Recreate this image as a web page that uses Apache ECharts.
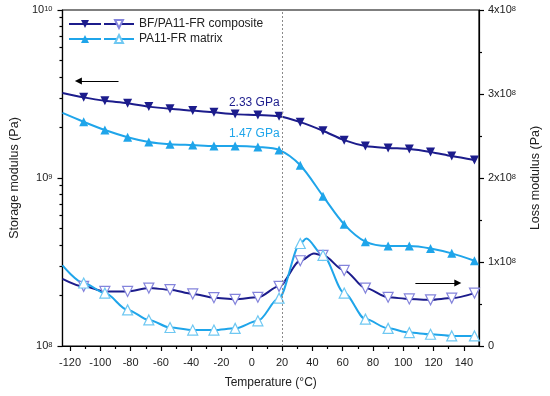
<!DOCTYPE html>
<html>
<head>
<meta charset="utf-8">
<script src="https://cdn.jsdelivr.net/npm/echarts@6/dist/echarts.min.js"></script>
<style>html,body{margin:0;padding:0;background:#fff;}#c{width:550px;height:396px;}</style>
</head>
<body>
<div id="c"></div>
<script>
// Temperatures (°C) of the plotted marker points
const temps = [-125, -111, -97, -82, -68, -54, -39, -25, -11, 4, 18, 32, 47, 61, 75, 90, 104, 118, 132, 147];
// Storage modulus (Pa)
const storageComposite = [3.21e9, 3.02e9, 2.88e9, 2.79e9, 2.66e9, 2.58e9, 2.52e9, 2.46e9, 2.40e9, 2.37e9, 2.33e9, 2.15e9, 1.91e9, 1.68e9, 1.55e9, 1.51e9, 1.49e9, 1.43e9, 1.35e9, 1.28e9];
const storageMatrix = [2.44e9, 2.16e9, 1.93e9, 1.75e9, 1.64e9, 1.59e9, 1.57e9, 1.55e9, 1.55e9, 1.53e9, 1.47e9, 1.19e9, 7.8e8, 5.3e8, 4.18e8, 3.94e8, 3.94e8, 3.81e8, 3.56e8, 3.22e8];
// Loss modulus (Pa)
const lossComposite = [0.80e8, 0.71e8, 0.65e8, 0.65e8, 0.69e8, 0.67e8, 0.62e8, 0.575e8, 0.556e8, 0.58e8, 0.71e8, 1.015e8, 1.08e8, 0.90e8, 0.69e8, 0.58e8, 0.56e8, 0.55e8, 0.57e8, 0.63e8];
const lossMatrix = [0.96e8, 0.75e8, 0.63e8, 0.43e8, 0.31e8, 0.22e8, 0.19e8, 0.19e8, 0.21e8, 0.30e8, 0.57e8, 1.22e8, 1.08e8, 0.63e8, 0.32e8, 0.21e8, 0.16e8, 0.14e8, 0.12e8, 0.12e8];
// Loss peaks (between markers)
const lossCompositePeak = [41, 1.10e8];
const lossMatrixPeak = [36, 1.28e8];
// Annotations
const refTemp = 20;
const compositeAt20 = 2.33e9;
const matrixAt20 = 1.47e9;
// Axis ticks
const xMajorTicks = [-120, -100, -80, -60, -40, -20, 0, 20, 40, 60, 80, 100, 120, 140];
const xMinorTicks = [-110, -90, -70, -50, -30, -10, 10, 30, 50, 70, 90, 110, 130];
const logMinorTicks = [2e8, 3e8, 4e8, 5e8, 6e8, 7e8, 8e8, 9e8, 2e9, 3e9, 4e9, 5e9, 6e9, 7e9, 8e9, 9e9];

const NAVY = '#1c1c8c';
const LIGHT = '#1fa5ea';
const FONT = 'Liberation Sans, Arial, sans-serif';

function build(vals, peak) {
  const d = temps.map((t, i) => (i === 0 ? { value: [t, vals[i]], symbol: 'none' } : { value: [t, vals[i]] }));
  if (peak) {
    d.push({ value: peak, symbol: 'none' });
    d.sort((a, b) => a.value[0] - b.value[0]);
  }
  return d;
}

const chart = echarts.init(document.getElementById('c'), null, { renderer: 'canvas' });
const supRich = {
  b: { fontSize: 11, fontFamily: FONT, color: '#222' },
  s: { fontSize: 7.5, fontFamily: FONT, color: '#222', verticalAlign: 'top', padding: [0, 0, 0, 0] }
};
const option = {
  animation: false,
  textStyle: { fontFamily: FONT },
  grid: { left: 62, right: 69, top: 10, bottom: 50, show: true, borderColor: '#000', borderWidth: 1.2, backgroundColor: 'transparent' },
  legend: [
    {
      data: ['Storage composite', 'Storage matrix'],
      orient: 'vertical', left: 68, top: 18, padding: 0, itemGap: 3,
      itemWidth: 32, itemHeight: 10,
      formatter: () => ' ',
      textStyle: { fontSize: 12 }
    },
    {
      data: ['BF/PA11-FR composite', 'PA11-FR matrix'],
      orient: 'vertical', left: 103, top: 18, padding: 0, itemGap: 3,
      itemWidth: 30, itemHeight: 10,
      textStyle: { fontSize: 12, color: '#222', fontFamily: FONT }
    }
  ],
  xAxis: [
    {
      type: 'value', min: -125, max: 150, position: 'bottom',
      name: 'Temperature (°C)', nameLocation: 'middle', nameGap: 31,
      nameTextStyle: { fontSize: 12, color: '#222', fontFamily: FONT },
      axisLine: { show: true, onZero: false, lineStyle: { color: '#000', width: 1.2 } },
      axisTick: { show: true, customValues: xMajorTicks, length: 5, lineStyle: { color: '#000', width: 1.2 } },
      axisLabel: { customValues: xMajorTicks, fontSize: 11, color: '#222', margin: 11, fontFamily: FONT },
      splitLine: { show: false }
    },
    {
      type: 'value', min: -125, max: 150, position: 'bottom', offset: 0,
      axisLine: { show: false, onZero: false },
      axisTick: { show: true, customValues: xMinorTicks, length: 3, lineStyle: { color: '#000', width: 1.2 } },
      axisLabel: { show: false },
      splitLine: { show: false }
    }
  ],
  yAxis: [
    {
      type: 'log', logBase: 10, min: 1e8, max: 1e10, position: 'left',
      name: 'Storage modulus (Pa)', nameLocation: 'middle', nameGap: 31,
      nameTextStyle: { fontSize: 12.5, color: '#222', fontFamily: FONT },
      axisLine: { show: true, onZero: false, lineStyle: { color: '#000', width: 1.2 } },
      axisTick: { show: true, length: 5, lineStyle: { color: '#000', width: 1.2 } },
      axisLabel: {
        margin: 10,
        formatter: v => '{b|10}{s|' + Math.round(Math.log10(v)) + '}',
        rich: supRich
      },
      splitLine: { show: false }
    },
    {
      type: 'value', min: 0, max: 4e8, interval: 1e8, position: 'right',
      name: 'Loss modulus (Pa)', nameLocation: 'middle', nameGap: 50,
      nameTextStyle: { fontSize: 12.5, color: '#222', fontFamily: FONT },
      axisLine: { show: true, onZero: false, lineStyle: { color: '#000', width: 1.2 } },
      axisTick: { show: true, length: 5, lineStyle: { color: '#000', width: 1.2 } },
      minorTick: { show: true, splitNumber: 2, length: 3, lineStyle: { color: '#000', width: 1.2 } },
      axisLabel: {
        margin: 9,
        formatter: v => (v === 0 ? '{b|0}' : '{b|' + Math.round(v / 1e8) + 'x10}{s|8}'),
        rich: supRich
      },
      splitLine: { show: false }
    },
    {
      type: 'log', logBase: 10, min: 1e8, max: 1e10, position: 'left', offset: 0,
      axisLine: { show: false, onZero: false },
      axisTick: { show: true, customValues: logMinorTicks, length: 3, lineStyle: { color: '#000', width: 1.2 } },
      axisLabel: { show: false },
      splitLine: { show: false }
    }
  ],
  series: [
    {
      name: 'Storage composite', type: 'line', yAxisIndex: 0,
      data: build(storageComposite),
      smooth: 0.3,
      symbol: 'triangle', symbolRotate: 180, symbolSize: 9,
      itemStyle: { color: NAVY },
      lineStyle: { color: NAVY, width: 2 },
      z: 3,
      markLine: {
        silent: true, animation: false,
        symbol: ['none', 'triangle'], symbolSize: 7,
        label: { show: false },
        lineStyle: { color: '#000', width: 1, type: 'solid' },
        data: [
          [{ coord: [-88, 3.78e9] }, { coord: [-114.5, 3.78e9] }]
        ]
      },
      markPoint: {
        silent: true, symbol: 'circle', symbolSize: 1,
        itemStyle: { color: 'rgba(0,0,0,0)' },
        label: { show: true, position: 'left', distance: 2, offset: [0, -14], color: NAVY, fontSize: 12, fontFamily: FONT, formatter: '2.33 GPa' },
        data: [{ coord: [refTemp, compositeAt20] }]
      }
    },
    {
      name: 'Storage matrix', type: 'line', yAxisIndex: 0,
      data: build(storageMatrix),
      smooth: 0.3,
      symbol: 'triangle', symbolSize: 9,
      itemStyle: { color: LIGHT },
      lineStyle: { color: LIGHT, width: 2 },
      z: 3,
      markLine: {
        silent: true, animation: false, symbol: 'none',
        label: { show: false },
        lineStyle: { color: '#8a8a8a', width: 1, type: [2, 2] },
        data: [{ xAxis: refTemp }]
      },
      markPoint: {
        silent: true, symbol: 'circle', symbolSize: 1,
        itemStyle: { color: 'rgba(0,0,0,0)' },
        label: { show: true, position: 'left', distance: 2, offset: [0, -16], color: LIGHT, fontSize: 12, fontFamily: FONT, formatter: '1.47 GPa' },
        data: [{ coord: [refTemp, matrixAt20] }]
      }
    },
    {
      name: 'BF/PA11-FR composite', type: 'line', yAxisIndex: 1,
      data: build(lossComposite, lossCompositePeak),
      smooth: 0.3, smoothMonotone: 'x',
      symbol: 'triangle', symbolRotate: 180, symbolSize: 10,
      itemStyle: { color: '#fff', borderColor: '#8484dc', borderWidth: 1.2 },
      lineStyle: { color: NAVY, width: 2 },
      z: 4,
      markLine: {
        silent: true, animation: false,
        symbol: ['none', 'triangle'], symbolSize: 7,
        label: { show: false },
        lineStyle: { color: '#000', width: 1, type: 'solid' },
        data: [
          [{ coord: [108, 0.75e8] }, { coord: [136, 0.75e8] }]
        ]
      }
    },
    {
      name: 'PA11-FR matrix', type: 'line', yAxisIndex: 1,
      data: build(lossMatrix, lossMatrixPeak),
      smooth: 0.3, smoothMonotone: 'x',
      symbol: 'triangle', symbolSize: 10,
      itemStyle: { color: '#fff', borderColor: '#6fc8f2', borderWidth: 1.2 },
      lineStyle: { color: LIGHT, width: 2 },
      z: 4
    }
  ]
};
chart.setOption(option);
</script>
</body>
</html>
